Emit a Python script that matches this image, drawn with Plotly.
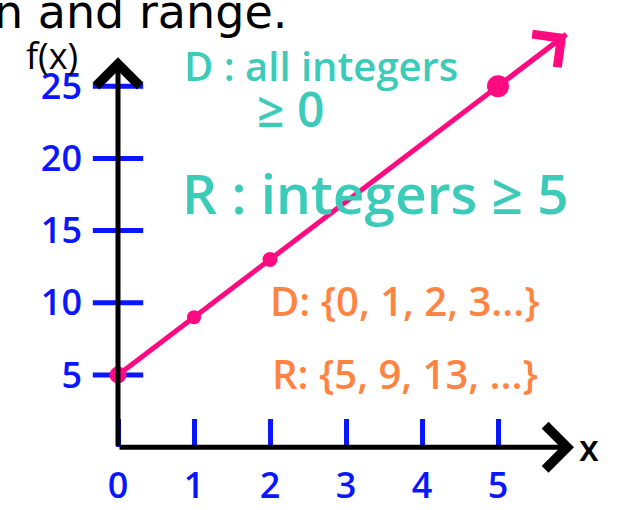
import plotly.graph_objects as go

# ---- data -----------------------------------------------------------------
# f(x) = values of the sequence, drawn as a line with dots at chosen x
line_x = [0, 1, 2, 3, 4, 5, 5.9]
line_y = [5, 9, 13, 17, 21, 25, 28.6]
dot_x = [0, 1, 2, 5]
dot_y = [5, 9, 13, 25]

x_tick_vals = [0, 1, 2, 3, 4, 5]
x_tick_text = ["0", "1", "2", "3", "4", "5"]
y_tick_vals = [5, 10, 15, 20, 25]
y_tick_text = ["5", "10", "15", "20", "25"]

x_axis_end = 6.0     # where the x-axis arrow ends
y_axis_end = 27.0    # where the y-axis arrow ends

# ---- styling --------------------------------------------------------------
W, H = 624, 510
X0_PX, X_UNIT = 118, 76.0       # pixel of x=0 and pixels per x unit
Y0_PX, Y_UNIT = 447.2, 14.44    # pixel of y=0 and pixels per y unit

PINK = "#FF0A80"
BLUE = "#0A16FF"
TEAL = "#3CCAB9"
ORANGE = "#FF8442"
INK = "#000000"
HAND = "Open Sans"


def paper(px, py):
    """pixel position -> paper coordinates"""
    return px / W, 1 - py / H


fig = go.Figure()

# y-axis tick dashes crossing the axis
fig.add_trace(go.Scatter(
    x=[0] * len(y_tick_vals), y=y_tick_vals, mode="markers",
    marker=dict(symbol="line-ew", size=36, opacity=1,
                line=dict(color=BLUE, width=5)),
    hoverinfo="skip"))

# the function line
fig.add_trace(go.Scatter(
    x=line_x, y=line_y, mode="lines",
    line=dict(color=PINK, width=5),
    hoverinfo="skip"))

# dots at the plotted inputs
fig.add_trace(go.Scatter(
    x=dot_x, y=dot_y, mode="markers",
    marker=dict(color=PINK, size=[17, 14, 15, 22], opacity=1, line=dict(width=0)),
    hoverinfo="skip"))

annotations = []

# axes with open arrow heads
for ax_, ay_, x_, y_ in [(0, 0, 0, y_axis_end), (0, 0, x_axis_end, 0)]:
    annotations.append(dict(
        x=x_, y=y_, ax=ax_, ay=ay_, xref="x", yref="y", axref="x", ayref="y",
        text="", showarrow=True, arrowhead=4, arrowsize=1.7,
        arrowwidth=5, arrowcolor=INK))

# arrow head at the end of the function line
annotations.append(dict(
    x=line_x[-1], y=line_y[-1], ax=line_x[-2], ay=line_y[-2],
    xref="x", yref="y", axref="x", ayref="y",
    text="", showarrow=True, arrowhead=4, arrowsize=1.6,
    arrowwidth=5, arrowcolor=PINK))


def label(text, px, py, color, size, xanchor="center", family=HAND, weight=600):
    x, y = paper(px, py)
    annotations.append(dict(
        text=text, x=x, y=y, xref="paper", yref="paper",
        xanchor=xanchor, yanchor="middle", showarrow=False,
        font=dict(family=family, size=size, color=color, weight=weight)))


domain_text = "D: {" + ", ".join(str(v) for v in line_x[:4]) + "...}"
range_text = "R: {" + ", ".join(str(v) for v in dot_y[:3]) + ", ...}"

label("n and range.", -8, 12, INK, 46, xanchor="left", family="DejaVu Sans", weight=400)
label("f(x)", 52, 55, INK, 36, weight=400)
label("x", 589, 447, INK, 36)
label("D : all integers", 182, 65, TEAL, 40, xanchor="left")
label("≥ 0", 290, 108, TEAL, 48)
label("R : integers ≥ 5", 180, 192, TEAL, 55, xanchor="left")
label(domain_text, 268, 300, ORANGE, 40, xanchor="left")
label(range_text, 270, 373, ORANGE, 40, xanchor="left")

fig.update_layout(
    width=W, height=H,
    margin=dict(l=0, r=0, t=0, b=0),
    paper_bgcolor="white", plot_bgcolor="white",
    showlegend=False,
    annotations=annotations,
    xaxis=dict(
        range=[-X0_PX / X_UNIT, (W - X0_PX) / X_UNIT],
        anchor="free", position=1 - Y0_PX / H,
        tickvals=x_tick_vals, ticktext=x_tick_text,
        ticks="inside", ticklen=28, tickwidth=5, tickcolor=BLUE,
        ticklabelstandoff=14,
        tickfont=dict(family=HAND, size=36, color=BLUE, weight=600),
        showgrid=False, zeroline=False, showline=False, automargin=False,
    ),
    yaxis=dict(
        range=[-(H - Y0_PX) / Y_UNIT, Y0_PX / Y_UNIT],
        anchor="free", position=X0_PX / W,
        tickvals=y_tick_vals, ticktext=y_tick_text,
        ticks="", ticklabelstandoff=36,
        tickfont=dict(family=HAND, size=36, color=BLUE, weight=600),
        showgrid=False, zeroline=False, showline=False, automargin=False,
    ),
)

fig.write_html("out.html")
